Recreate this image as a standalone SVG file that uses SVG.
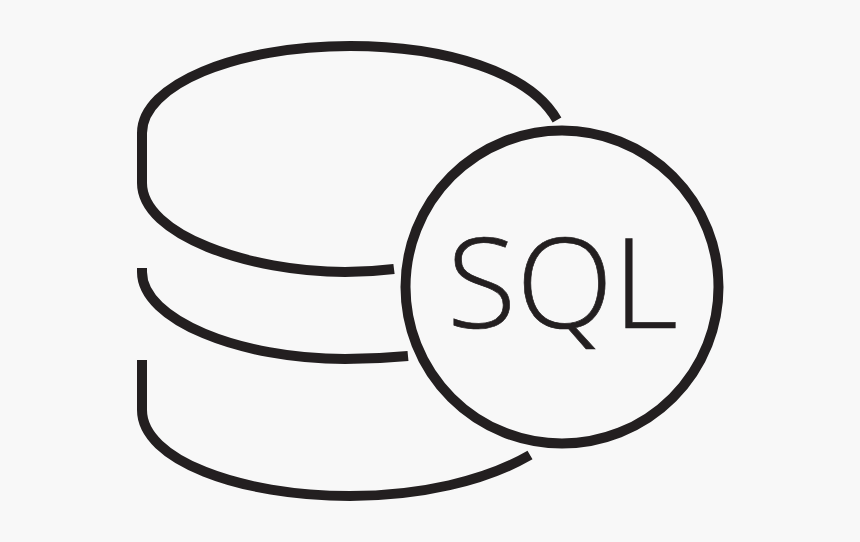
<svg xmlns="http://www.w3.org/2000/svg" width="860" height="542" viewBox="0 0 860 542">
<style>.l{fill:none;stroke:#231f20;stroke-width:10}</style>
<rect width="860" height="542" fill="#f8f8f8"/>
<g id="database">
<path class="l" d="M557 120C530 72 445 46 350 46C235 46 142 85 142 133V183C142 235 250 272 345 272C362 272 378 271 394 269"/>
<path class="l" d="M142 268V272C142 320 240 359 345 359C366 359 387 358 408 356"/>
<path class="l" d="M142 360V410C142 460 240 496 350 496C420 496 485 481 530 455"/>
</g>
<g id="sql">
<circle class="l" cx="562" cy="287" r="156.5"/>
<text x="447" y="328" font-family="Open Sans, sans-serif" font-weight="300" font-size="126" fill="#231f20" stroke="#231f20" stroke-width="0.7" textLength="231" lengthAdjust="spacingAndGlyphs">SQL</text>
</g>
</svg>
